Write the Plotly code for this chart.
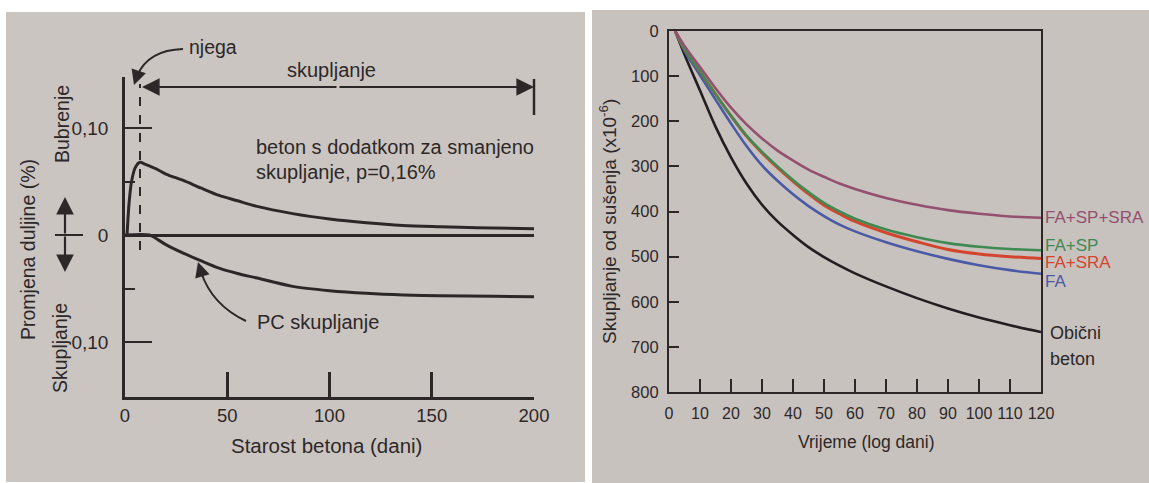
import plotly.graph_objects as go

# ---------------- data ----------------
# Left chart: length change (%) vs concrete age (days)
sra_days = [1, 2, 3.2, 5, 7.3, 10, 15, 20, 28.5, 37, 46, 55, 64, 82, 100, 118, 136, 154, 172, 200]
sra_change = [0, 0.030, 0.050, 0.063, 0.068, 0.066, 0.062, 0.057, 0.051, 0.044, 0.037, 0.032,
              0.027, 0.020, 0.015, 0.0115, 0.009, 0.0078, 0.0068, 0.0058]
pc_days = [0, 12, 15, 20, 28.5, 37, 46, 55, 64, 82, 100, 118, 136, 154, 180, 200]
pc_change = [0, 0, -0.003, -0.009, -0.017, -0.024, -0.031, -0.036, -0.040, -0.048, -0.052,
             -0.0545, -0.056, -0.0567, -0.0573, -0.0576]
left_xticks = [0, 50, 100, 150, 200]
left_yticks = [-0.10, 0, 0.10]
left_yticktext = ["0,10", "0", "0,10"]

# Right chart: drying shrinkage (x10^-6) vs time
time_days = [2, 5, 10, 15, 20, 25, 30, 35, 40, 45, 50, 55, 60, 70, 80, 90, 100, 110, 120]
obicni = [0, 52, 132, 212, 280, 338, 385, 422, 452, 479, 501, 520, 537, 566, 592, 615, 635, 652, 667]
fa = [0, 44, 98, 152, 205, 255, 298, 332, 362, 388, 410, 429, 444, 468, 488, 505, 519, 530, 538]
fa_sra = [0, 40, 90, 140, 188, 233, 270, 303, 333, 361, 386, 405, 422, 447, 467, 484, 494, 500, 504]
fa_sp = [0, 40, 90, 140, 188, 232, 268, 300, 330, 357, 381, 400, 416, 440, 457, 470, 478, 483, 486]
fa_sp_sra = [0, 33, 80, 127, 170, 207, 238, 265, 287, 307, 323, 338, 350, 370, 385, 397, 405, 411, 414]
right_xticks = list(range(0, 130, 10))
right_yticks = list(range(0, 900, 100))

# ---------------- style ----------------
W, H = 1149, 483
INK = "#2d2828"
FONT = "Liberation Sans, Arial, sans-serif"
C_PURPLE = "#93506f"
C_GREEN = "#3f8a52"
C_RED = "#d4452e"
C_BLUE = "#4a5aa6"
C_BLACK = "#231f20"


def X(p):
    return p / W


def Y(p):
    return 1 - p / H


fig = go.Figure()

# left chart traces
fig.add_trace(go.Scatter(x=sra_days, y=sra_change, mode="lines", line=dict(color=INK, width=3, shape="spline", smoothing=0.8),
                         xaxis="x", yaxis="y", hoverinfo="skip"))
fig.add_trace(go.Scatter(x=pc_days, y=pc_change, mode="lines", line=dict(color=INK, width=3, shape="spline", smoothing=0.8),
                         xaxis="x", yaxis="y", hoverinfo="skip"))

# right chart traces
for vals, col in [(obicni, C_BLACK), (fa, C_BLUE), (fa_sra, C_RED), (fa_sp, C_GREEN), (fa_sp_sra, C_PURPLE)]:
    fig.add_trace(go.Scatter(x=time_days, y=vals, mode="lines",
                             line=dict(color=col, width=2.6 if col != C_RED else 3, shape="spline", smoothing=1.0),
                             xaxis="x2", yaxis="y2", hoverinfo="skip"))

shapes = [
    dict(type="rect", xref="paper", yref="paper", x0=X(6), x1=X(585), y0=Y(482), y1=Y(12),
         fillcolor="#cbc5c2", line=dict(width=0), layer="below"),
    dict(type="rect", xref="paper", yref="paper", x0=X(592), x1=X(1149), y0=Y(483), y1=Y(10),
         fillcolor="#c8c2bf", line=dict(width=0), layer="below"),
    # curing dashed line
    dict(type="line", xref="paper", yref="paper", x0=X(140), x1=X(140), y0=Y(250), y1=Y(84),
         line=dict(color=INK, width=2, dash="dash")),
    # end bar of shrinkage arrow
    dict(type="line", xref="paper", yref="paper", x0=X(534), x1=X(534), y0=Y(115), y1=Y(79),
         line=dict(color=INK, width=2.5)),
    # small horizontal line of the vertical double arrow
    dict(type="line", xref="paper", yref="paper", x0=X(55), x1=X(83), y0=Y(235), y1=Y(235),
         line=dict(color=INK, width=2)),
    # curved njega arrow
    dict(type="path", xref="paper", yref="paper",
         path=f"M {X(183)} {Y(49)} Q {X(148)} {Y(50)} {X(137)} {Y(76)}",
         line=dict(color=INK, width=2)),
    # curved PC arrow
    dict(type="path", xref="paper", yref="paper",
         path=f"M {X(246)} {Y(321)} Q {X(212)} {Y(305)} {X(201)} {Y(272)}",
         line=dict(color=INK, width=2)),
]

ann = []


def arrow(tx, ty, dx, dy, size=1.6, width=2.2):
    ann.append(dict(x=X(tx), y=Y(ty), xref="paper", yref="paper", text="", showarrow=True,
                    ax=dx, ay=dy, arrowhead=2, arrowsize=size, arrowwidth=width, arrowcolor=INK))


arrow(142, 87, 196, 0)
arrow(534, 87, -196, 0)
arrow(65, 197, 0, 38)
arrow(65, 272, 0, -37)
arrow(134, 85, 4, -12, size=1.5, width=2)
arrow(198, 262, 4, 13, size=1.5, width=2)


def text(t, x, y, size, color=INK, xanchor="center", yanchor="middle", angle=0):
    ann.append(dict(x=X(x), y=Y(y), xref="paper", yref="paper", text=t, showarrow=False,
                    font=dict(family=FONT, size=size, color=color), xanchor=xanchor, yanchor=yanchor,
                    textangle=angle))


# left texts
text("njega", 187, 47, 19.5, xanchor="left")
text("skupljanje", 331, 70, 20)
text("beton s dodatkom za smanjeno", 254, 147, 20, xanchor="left")
text("skupljanje, p=0,16%", 254, 172, 20, xanchor="left")
text("PC skupljanje", 255, 322, 20, xanchor="left")
text("Starost betona (dani)", 326, 445, 20.5)
text("Promjena duljine (%)", 28, 250, 19.5, angle=-90)
text("Bubrenje", 62, 124, 19.5, angle=-90)
text("Skupljanje", 60, 348, 19.5, angle=-90)

# right texts
text("Vrijeme (log dani)", 866, 442, 17.5)
text("Skupljanje od sušenja (x10<sup>-6</sup>)", 608, 222, 19, angle=-90)
text("FA+SP+SRA", 1043, 217, 17, color=C_PURPLE, xanchor="left")
text("FA+SP", 1043, 245, 17, color=C_GREEN, xanchor="left")
text("FA+SRA", 1043, 262, 17, color=C_RED, xanchor="left")
text("FA", 1043, 281, 17, color=C_BLUE, xanchor="left")
text("Obični", 1048, 333, 18, xanchor="left")
text("beton", 1048, 359, 18, xanchor="left")

axis_common = dict(showgrid=False, showline=True, linecolor=INK, tickcolor=INK, fixedrange=True,
                   automargin=False)

fig.update_layout(
    width=W, height=H, autosize=False,
    margin=dict(l=0, r=0, t=0, b=0, pad=0, autoexpand=False),
    paper_bgcolor="white", plot_bgcolor="rgba(0,0,0,0)",
    showlegend=False,
    shapes=shapes, annotations=ann,
    xaxis=dict(axis_common, domain=[X(125), X(534)], range=[0, 200], anchor="y",
               linewidth=2.5, ticks="inside", ticklen=25, tickwidth=2.5,
               tickvals=left_xticks, zeroline=False, ticklabelstandoff=0, tickangle=0,
               tickfont=dict(family=FONT, size=18.5, color=INK)),
    yaxis=dict(axis_common, domain=[Y(397), Y(77)], range=[-0.1514, 0.1477], anchor="x",
               linewidth=2.5, ticks="inside", ticklen=27, tickwidth=2, tickvals=left_yticks,
               ticktext=left_yticktext, zeroline=True, zerolinecolor=INK, zerolinewidth=2.5,
               minor=dict(tickvals=[-0.05, 0.05], ticklen=10, ticks="inside", tickcolor=INK, tickwidth=2),
               ticklabelstandoff=10, tickfont=dict(family=FONT, size=19, color=INK)),
    xaxis2=dict(axis_common, domain=[X(669), X(1041)], range=[0, 120], anchor="y2",
                linewidth=2.2, mirror=True, ticks="inside", ticklen=13, tickwidth=2,
                tickvals=right_xticks, zeroline=False, ticklabelstandoff=6, tickangle=0,
                tickfont=dict(family=FONT, size=16, color=INK)),
    yaxis2=dict(axis_common, domain=[Y(392), Y(31)], range=[800, 0], anchor="x2",
                linewidth=2.2, mirror=True, ticks="inside", ticklen=10, tickwidth=2,
                tickvals=right_yticks, zeroline=False, ticklabelstandoff=5,
                tickfont=dict(family=FONT, size=16.5, color=INK)),
)

fig.write_html("out.html", config={"displayModeBar": False},
               post_script="document.body.style.margin='0';document.body.style.overflow='hidden';")
